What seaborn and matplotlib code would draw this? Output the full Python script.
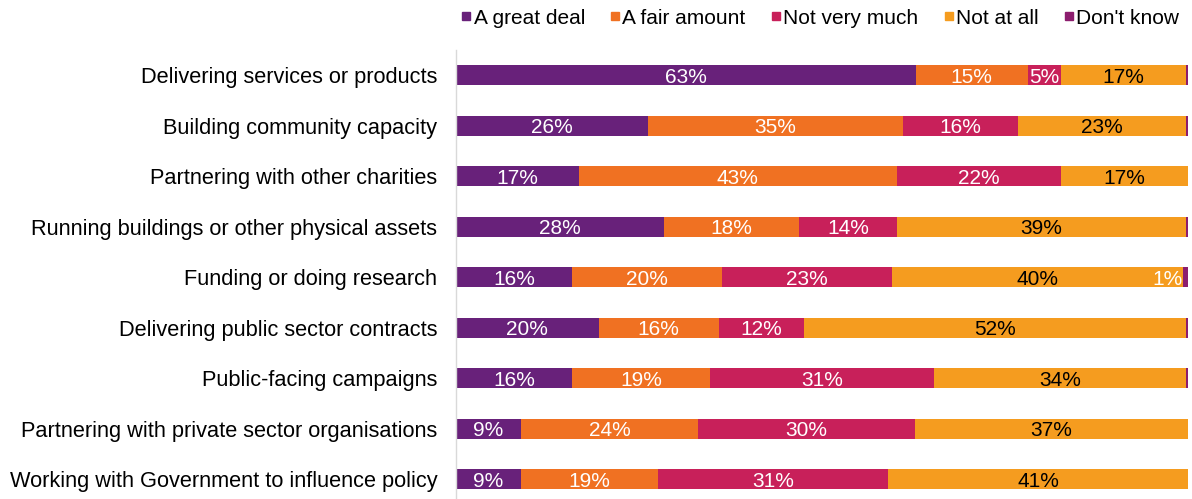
import numpy as np
import pandas as pd
import matplotlib
matplotlib.use("Agg")
import matplotlib.pyplot as plt
from matplotlib.lines import Line2D
import seaborn as sns

categories = [
    "Delivering services or products",
    "Building community capacity",
    "Partnering with other charities",
    "Running buildings or other physical assets",
    "Funding or doing research",
    "Delivering public sector contracts",
    "Public-facing campaigns",
    "Partnering with private sector organisations",
    "Working with Government to influence policy",
]
series_names = ["A great deal", "A fair amount", "Not very much", "Not at all", "Don't know"]
great_deal = [62.8, 26.2, 16.8, 28.4, 15.8, 19.5, 15.8, 8.9, 8.9]
fair_amount = [15.3, 34.8, 43.4, 18.4, 20.5, 16.4, 18.9, 24.2, 18.7]
not_very_much = [4.6, 15.8, 22.4, 13.5, 23.2, 11.6, 30.6, 29.6, 31.4]
not_at_all = [17.0, 22.9, 17.4, 39.4, 39.8, 52.2, 34.4, 37.3, 41.0]
dont_know = [0.3, 0.3, 0.0, 0.3, 0.7, 0.3, 0.3, 0.0, 0.0]

colors = ["#68217A", "#F07122", "#C8205A", "#F59C1F", "#8C1D6E"]
label_colors = ["white", "white", "white", "black", "white"]

sns.set_style("white")
plt.rcParams["font.family"] = ["Liberation Sans", "DejaVu Sans"]
plt.rcParams["text.color"] = "black"

values = np.array([great_deal, fair_amount, not_very_much, not_at_all, dont_know])
cum = np.cumsum(values, axis=0)

fig = plt.figure(figsize=(11.92, 4.99), dpi=100)
ax = fig.add_axes([456 / 1192, 0.0, (1188 - 456) / 1192, (499 - 50) / 499])

for k in range(len(series_names) - 1, -1, -1):
    df = pd.DataFrame({"cat": categories, "val": cum[k]})
    sns.barplot(data=df, x="val", y="cat", orient="h", color=colors[k],
                saturation=1, width=0.4, ax=ax, linewidth=0)

fs = 15
for k in range(len(series_names)):
    for i in range(len(categories)):
        v = values[k, i]
        if round(v) < 1:
            continue
        start = cum[k, i] - v
        if v < 3:
            ax.text(start, i + 0.04, f"{round(v):.0f}%", ha="right", va="center",
                    color=label_colors[k], fontsize=fs)
        else:
            ax.text(start + v / 2, i + 0.04, f"{round(v):.0f}%", ha="center", va="center",
                    color=label_colors[k], fontsize=fs)

ax.set_xlim(0, 100)
ax.set_ylim(8.39, -0.5)
ax.set_xlabel("")
ax.set_ylabel("")
ax.set_xticks([])
ax.tick_params(axis="y", length=0, pad=13.5, labelsize=15.7, labelcolor="black")
for s in ["top", "right", "bottom"]:
    ax.spines[s].set_visible(False)
ax.spines["left"].set_color("#D9D9D9")
ax.spines["left"].set_linewidth(1)

handles = [Line2D([], [], marker="s", linestyle="none", markersize=6,
                  markerfacecolor=c, markeredgecolor=c) for c in colors]
fig.legend(handles, series_names, loc="center", bbox_to_anchor=(819 / 1192, 1 - 18 / 499),
           ncol=5, frameon=False, fontsize=fs, handletextpad=0.0, columnspacing=1.1,
           handlelength=0.7)

fig.savefig("out.png", dpi=100)
